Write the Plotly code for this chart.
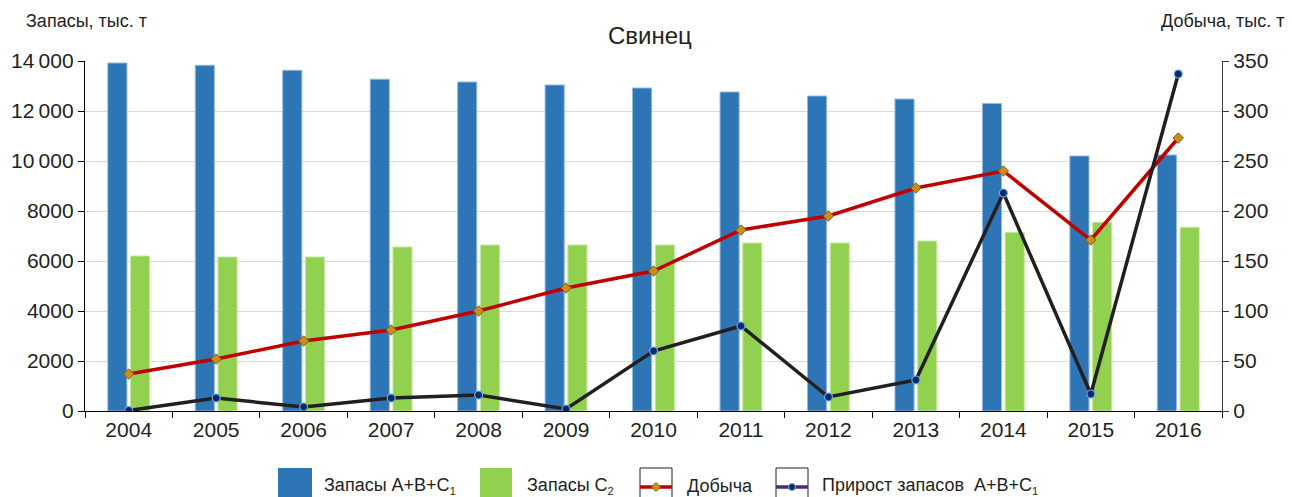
import plotly.graph_objects as go

years = ["2004", "2005", "2006", "2007", "2008", "2009", "2010",
         "2011", "2012", "2013", "2014", "2015", "2016"]

# Запасы A+B+C1, тыс. т
reserves_abc1 = [13920, 13830, 13630, 13270, 13160, 13040, 12920,
                 12760, 12600, 12480, 12300, 10200, 10240]
# Запасы C2, тыс. т
reserves_c2 = [6200, 6160, 6160, 6560, 6640, 6640, 6640,
               6720, 6720, 6800, 7150, 7550, 7350]
# Добыча, тыс. т
production = [37, 52, 70, 81, 100, 123, 140, 181, 195, 223, 240, 171, 273]
# Прирост запасов A+B+C1, тыс. т
growth = [0.5, 13, 4, 13, 16, 2, 60, 85, 14, 31, 218, 17, 337]

left_ticks = [0, 2000, 4000, 6000, 8000, 10000, 12000, 14000]
left_ticktext = ["0", "2000", "4000", "6000", "8000", "10\u2009000", "12\u2009000", "14\u2009000"]
right_ticks = [0, 50, 100, 150, 200, 250, 300, 350]

TEXT = "#231f20"
FONT = "Liberation Sans, Arial, sans-serif"

BLUE, GREEN, RED, DARK = "#2e75b6", "#92d050", "#c00000", "#231f20"
GOLD, GOLD_EDGE = "#c8901a", "#8a5a10"
NAVY, NAVY_EDGE = "#0b2a6b", "#6fa8e0"

W, H = 1292, 497
ML, MR, MT, MB = 85, 70, 61, 86
plot_w = W - ML - MR
plot_h = H - MT - MB


def px_x(x):
    return (x - ML) / plot_w


def px_y(y):
    return (H - MB - y) / plot_h


def sub(s):
    return "<sub><span style='font-size:11px'>" + s + "</span></sub>"


fig = go.Figure()

fig.add_trace(go.Bar(
    x=years, y=reserves_abc1, name="Запасы A+B+C1",
    marker=dict(color=BLUE, line=dict(color="#8fb8e0", width=1)),
))
fig.add_trace(go.Bar(
    x=years, y=reserves_c2, name="Запасы C2",
    marker=dict(color=GREEN, line=dict(color="#c4e89e", width=1)),
))
fig.add_trace(go.Scatter(
    x=years, y=production, name="Добыча", yaxis="y2",
    mode="lines+markers", line=dict(color=RED, width=3.5),
    marker=dict(symbol="diamond", size=8, color=GOLD, line=dict(color=GOLD_EDGE, width=1)),
))
fig.add_trace(go.Scatter(
    x=years, y=growth, name="Прирост запасов A+B+C1", yaxis="y2",
    mode="lines+markers", line=dict(color=DARK, width=3.5),
    marker=dict(symbol="circle", size=8, color=NAVY, line=dict(color=NAVY_EDGE, width=1.2)),
))

# Legend drawn by hand below the plot: large swatches and boxed line samples
shapes = []
annotations = []
leg_top, leg_bot, leg_mid = 468, 500, 487


def paper_rect(x0, x1, y0, y1, **kw):
    return dict(type="rect", xref="paper", yref="paper",
                x0=px_x(x0), x1=px_x(x1), y0=px_y(y1), y1=px_y(y0), layer="above", **kw)


items = [
    ("bar", BLUE, None, 278, 312, 322, "Запасы A+B+C" + sub("1")),
    ("bar", GREEN, None, 480, 512, 525, "Запасы C" + sub("2")),
    ("line", RED, "diamond", 640, 672, 685, "Добыча"),
    ("line", "#4b2a7b", "circle", 776, 808, 820, "Прирост запасов  A+B+C" + sub("1")),
]
for kind, color, mk, x0, x1, tx, label in items:
    if kind == "bar":
        shapes.append(paper_rect(x0, x1, leg_top, leg_bot, fillcolor=color, line=dict(width=0)))
    else:
        shapes.append(paper_rect(x0, x1, leg_top, leg_bot, fillcolor="white",
                                 line=dict(color="#231f20", width=1)))
        shapes.append(dict(type="line", xref="paper", yref="paper", layer="above",
                           x0=px_x(x0), x1=px_x(x1), y0=px_y(leg_mid), y1=px_y(leg_mid),
                           line=dict(color=color, width=3.5)))
        cx = (x0 + x1) / 2
        if mk == "diamond":
            r = 4.5
            path = "M {a},{b} L {c},{d} L {a},{e} L {f},{d} Z".format(
                a=px_x(cx), b=px_y(leg_mid - r), c=px_x(cx + r), d=px_y(leg_mid),
                e=px_y(leg_mid + r), f=px_x(cx - r))
            shapes.append(dict(type="path", xref="paper", yref="paper", layer="above",
                               path=path, fillcolor=GOLD, line=dict(color=GOLD_EDGE, width=1)))
        else:
            r = 3.5
            shapes.append(dict(type="circle", xref="paper", yref="paper", layer="above",
                               x0=px_x(cx - r), x1=px_x(cx + r),
                               y0=px_y(leg_mid + r), y1=px_y(leg_mid - r),
                               fillcolor=NAVY, line=dict(color=NAVY_EDGE, width=1)))
    annotations.append(dict(text=label, x=px_x(tx), y=px_y(leg_mid - 1),
                            xref="paper", yref="paper", xanchor="left", yanchor="middle",
                            showarrow=False, font=dict(size=18, color=TEXT)))

annotations += [
    dict(text="Свинец", x=px_x(650), y=px_y(35), xref="paper", yref="paper",
         xanchor="center", yanchor="middle", showarrow=False,
         font=dict(size=24, color=TEXT)),
    dict(text="Запасы, тыс. т", x=px_x(24), y=px_y(21), xref="paper", yref="paper",
         xanchor="left", yanchor="middle", showarrow=False,
         font=dict(size=18, color=TEXT)),
    dict(text="Добыча, тыс. т", x=px_x(1286), y=px_y(21), xref="paper", yref="paper",
         xanchor="right", yanchor="middle", showarrow=False,
         font=dict(size=18, color=TEXT)),
]

fig.update_layout(
    width=W, height=H,
    margin=dict(l=ML, r=MR, t=MT, b=MB, autoexpand=False),
    paper_bgcolor="white", plot_bgcolor="white",
    font=dict(family=FONT, color=TEXT, size=21),
    barmode="group", bargap=0.48, bargroupgap=0.16,
    showlegend=False,
    xaxis=dict(
        type="category", range=[-0.5, 12.5],
        showline=True, linecolor="black", linewidth=1.3,
        ticks="outside", tickson="boundaries", ticklen=6, tickcolor="black",
        showgrid=False, tickfont=dict(size=21, color=TEXT),
    ),
    yaxis=dict(
        range=[0, 14000], tickvals=left_ticks, ticktext=left_ticktext,
        showline=True, linecolor="black", linewidth=1.3,
        ticks="outside", ticklen=6, tickcolor="black",
        showgrid=True, gridcolor="#d9d9d9", gridwidth=1.3,
        zeroline=False, tickfont=dict(size=21, color=TEXT),
    ),
    yaxis2=dict(
        range=[0, 350], tickvals=right_ticks, overlaying="y", side="right",
        showline=True, linecolor="#3a3a3a", linewidth=1.3,
        ticks="outside", ticklen=6, tickcolor="#3a3a3a",
        showgrid=False, zeroline=False, tickfont=dict(size=21, color=TEXT),
    ),
    shapes=shapes,
    annotations=annotations,
)

fig.write_html("out.html")
